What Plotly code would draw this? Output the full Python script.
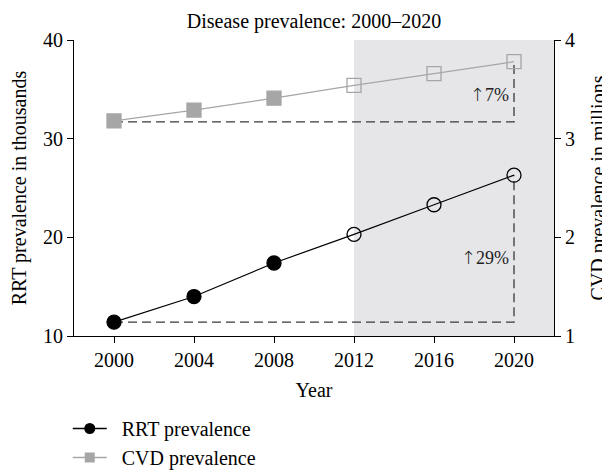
import plotly.graph_objects as go

years = [2000, 2004, 2008, 2012, 2016, 2020]
rrt_thousands = [11.4, 14.0, 17.4, 20.3, 23.3, 26.3]
cvd_millions = [3.18, 3.29, 3.41, 3.54, 3.66, 3.78]
rrt_baseline = 11.4
cvd_baseline = 3.17
projection_start = 2012
x_end = 2022
title_text = "Disease prevalence: 2000\u20132020"
rrt_name = "RRT prevalence"
cvd_name = "CVD prevalence"
rrt_pct = "29%"
cvd_pct = "7%"

FONT = "Liberation Serif"
filled = [y < projection_start for y in years]
GREY = "#a6a6a6"
ARROW = '<span style="font-family:DejaVu Sans;font-weight:200">\u2191</span>'

fig = go.Figure()

# shaded projection area
fig.add_shape(type="rect", xref="x", yref="paper", x0=projection_start, x1=x_end,
              y0=0, y1=1, fillcolor="#e6e6e9", line_width=0, layer="below")

# dashed guide lines
dash_style = dict(color="#3a3a3a", width=1.3, dash="9px,5px")
fig.add_trace(go.Scatter(x=[years[0], years[-1], years[-1]],
                         y=[rrt_baseline, rrt_baseline, rrt_thousands[-1]],
                         mode="lines", line=dash_style,
                         showlegend=False, hoverinfo="skip"))
fig.add_trace(go.Scatter(x=[years[0], years[-1], years[-1]],
                         y=[cvd_baseline, cvd_baseline, cvd_millions[-1]],
                         mode="lines", line=dash_style,
                         yaxis="y2", showlegend=False, hoverinfo="skip"))

fig.add_trace(go.Scatter(
    x=years, y=cvd_millions, yaxis="y2", name=cvd_name, showlegend=False,
    mode="lines+markers",
    line=dict(color=GREY, width=1.2),
    marker=dict(symbol=["square" if f else "square-open" for f in filled],
                size=14, color=GREY, line=dict(color=GREY, width=1.3)),
))
fig.add_trace(go.Scatter(
    x=years, y=rrt_thousands, name=rrt_name, showlegend=False,
    mode="lines+markers",
    line=dict(color="black", width=1.2),
    marker=dict(symbol=["circle" if f else "circle-open" for f in filled],
                size=14, color="black", line=dict(color="black", width=1.3)),
))

# legend entries (smaller symbols, as in the reference legend)
fig.add_trace(go.Scatter(x=[None], y=[None], name="\u2002" + rrt_name,
                         mode="lines+markers", line=dict(color="black", width=1.4),
                         marker=dict(symbol="circle", size=11, color="black")))
fig.add_trace(go.Scatter(x=[None], y=[None], name="\u2002" + cvd_name,
                         mode="lines+markers", line=dict(color=GREY, width=1.4),
                         marker=dict(symbol="square", size=10, color=GREY)))

fig.add_annotation(x=years[-1], y=18.0, xref="x", yref="y", text=ARROW + rrt_pct,
                   showarrow=False, xanchor="right", xshift=-3,
                   font=dict(family=FONT, size=18, color="#222"))
fig.add_annotation(x=years[-1], y=3.45, xref="x", yref="y2", text=ARROW + cvd_pct,
                   showarrow=False, xanchor="right", xshift=-3,
                   font=dict(family=FONT, size=18, color="#222"))

axis_common = dict(showgrid=False, zeroline=False, showline=True, linecolor="black",
                   linewidth=1.2, ticks="outside", ticklen=6, tickcolor="black",
                   automargin=False,
                   tickfont=dict(family=FONT, size=20, color="black"))

fig.update_layout(
    width=602, height=465,
    paper_bgcolor="white", plot_bgcolor="white",
    margin=dict(l=66, r=56, t=32, b=137),
    title=dict(text=title_text, x=0.5, xref="paper", xanchor="center",
               y=1 - 13 / 465, yref="container", yanchor="middle",
               font=dict(family=FONT, size=20, color="black")),
    font=dict(family=FONT, size=20, color="black"),
    xaxis=dict(range=[1998, x_end], tickvals=years, title=dict(text="Year", standoff=12,
               font=dict(family=FONT, size=20)), **axis_common),
    yaxis=dict(range=[10, 40], tickvals=[10, 20, 30, 40],
               title=dict(text="RRT prevalence in thousands", standoff=20,
                          font=dict(family=FONT, size=20)), **axis_common),
    yaxis2=dict(range=[1, 4], tickvals=[1, 2, 3, 4], overlaying="y", side="right",
                title=dict(text="CVD prevalence in millions", standoff=18,
                           font=dict(family=FONT, size=20)), **axis_common),
    legend=dict(x=-0.013, xanchor="left", xref="paper", y=1 - 401 / 465, yanchor="top",
                yref="container",
                font=dict(family=FONT, size=20),
                bgcolor="rgba(0,0,0,0)", itemwidth=34, tracegroupgap=0),
    showlegend=True,
)

fig.write_html("out.html")
